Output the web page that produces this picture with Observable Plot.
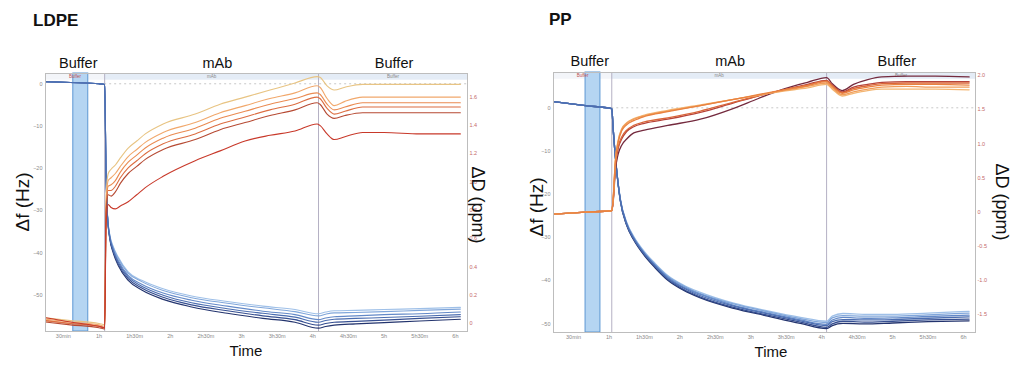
<!DOCTYPE html>
<html>
<head>
<meta charset="utf-8">
<script src="https://cdn.jsdelivr.net/npm/d3@7"></script>
<script src="https://cdn.jsdelivr.net/npm/@observablehq/plot@0.6"></script>
<style>
  html, body { margin: 0; padding: 0; background: #fff; }
  #wrap { position: relative; width: 1024px; height: 373px; overflow: hidden; font-family: "Liberation Sans", Arial, sans-serif; }
  #wrap svg { position: absolute; top: 0; }
  .lbl { position: absolute; white-space: nowrap; color: #111; transform: translate(-50%, -50%); line-height: 1; }
  .title { position: absolute; font-weight: bold; font-size: 17px; color: #111; line-height: 1; }
</style>
</head>
<body>
<div id="wrap"></div>
<script>
// ---------- shared ----------
const xTicks = [0.5, 1, 1.5, 2, 2.5, 3, 3.5, 4, 4.5, 5, 5.5, 6];
const xTickLabels = ["30min", "1h", "1h30m", "2h", "2h30m", "3h", "3h30m", "4h", "4h30m", "5h", "5h30m", "6h"];
const phaseNames = ["Buffer", "mAb", "Buffer"];
const freqColors = ["#9fc0e8", "#80a6da", "#6389c8", "#4b6db0", "#364f91", "#23346e"];
const freqDrawOrder = [0, 5, 1, 4, 2, 3];

// ---------- LDPE ----------
const ldpeFreqTicks = [0, -10, -20, -30, -40, -50];
const ldpeDissTicks = [0, 0.2, 0.4, 0.6, 0.8, 1.0, 1.2, 1.4, 1.6];
const ldpeBand = [0.64, 0.85];
const ldpeSwitch = [1.08, 4.08];
const ldpeLabelT = [0.71, 2.66, 5.14];
const ldpeFreqT = [0.25, 0.6, 1.0, 1.08, 1.1, 1.12, 1.15, 1.2, 1.27, 1.41, 1.6, 1.9, 2.3, 2.8, 3.3, 3.75, 4.08, 4.18, 4.3, 4.6, 5.0, 5.5, 6.07];
const ldpeF3  = [0.5, 0.3, 0.0, -0.2, -22, -31.0, -35.5, -38.5, -41.0, -44.5, -46.5, -48.5, -50.2, -51.5, -52.6, -53.4, -54.4, -54.0, -53.7, -53.6, -53.4, -53.2, -52.9];
const ldpeF5  = [0.5, 0.3, 0.0, -0.2, -22, -31.1, -35.7, -38.7, -41.3, -44.8, -46.8, -48.9, -50.6, -51.9, -53.0, -53.9, -54.9, -54.5, -54.2, -54.1, -53.9, -53.6, -53.3];
const ldpeF7  = [0.5, 0.3, 0.0, -0.2, -22, -31.2, -35.9, -39.1, -41.8, -45.3, -47.4, -49.5, -51.2, -52.6, -53.8, -54.6, -55.8, -55.4, -55.1, -54.9, -54.6, -54.4, -54.0];
const ldpeF9  = [0.5, 0.3, 0.0, -0.2, -22, -31.3, -36.1, -39.4, -42.2, -45.7, -47.9, -50.0, -51.8, -53.2, -54.3, -55.2, -56.4, -56.0, -55.7, -55.5, -55.3, -55.0, -54.6];
const ldpeF11 = [0.5, 0.3, 0.0, -0.2, -22, -31.4, -36.3, -39.7, -42.6, -46.1, -48.3, -50.5, -52.3, -53.7, -54.9, -55.8, -57.1, -56.7, -56.4, -56.2, -55.9, -55.5, -55.1];
const ldpeF13 = [0.5, 0.3, 0.0, -0.2, -22, -31.5, -36.5, -40.0, -43.0, -46.5, -48.8, -51.0, -52.8, -54.3, -55.5, -56.4, -57.8, -57.4, -57.1, -56.8, -56.5, -56.1, -55.7];
const ldpeDissT = [0.25, 0.6, 1.0, 1.08, 1.1, 1.13, 1.17, 1.23, 1.3, 1.41, 1.53, 1.65, 1.9, 2.35, 2.7, 3.05, 3.4, 3.75, 4.06, 4.1, 4.2, 4.3, 4.45, 4.7, 5.0, 5.5, 6.07];
const ldpeD0 = [0.04, 0.02, 0.0, -0.01, 0.90, 1.06, 1.09, 1.12, 1.17, 1.24, 1.29, 1.34, 1.41, 1.48, 1.55, 1.60, 1.65, 1.70, 1.745, 1.74, 1.68, 1.65, 1.67, 1.69, 1.69, 1.69, 1.69];
const ldpeD1 = [0.03, 0.01, -0.01, -0.02, 0.85, 1.01, 1.03, 1.06, 1.11, 1.18, 1.23, 1.28, 1.35, 1.42, 1.49, 1.54, 1.59, 1.63, 1.68, 1.67, 1.59, 1.54, 1.57, 1.60, 1.60, 1.60, 1.60];
const ldpeD2 = [0.02, 0.0, -0.02, -0.03, 0.82, 0.97, 0.98, 1.01, 1.07, 1.14, 1.19, 1.24, 1.31, 1.38, 1.45, 1.50, 1.55, 1.59, 1.63, 1.62, 1.55, 1.51, 1.53, 1.56, 1.56, 1.56, 1.56];
const ldpeD3 = [0.02, 0.0, -0.02, -0.03, 0.80, 0.94, 0.94, 0.97, 1.03, 1.10, 1.15, 1.20, 1.27, 1.34, 1.41, 1.46, 1.51, 1.55, 1.60, 1.59, 1.52, 1.48, 1.50, 1.53, 1.53, 1.53, 1.53];
const ldpeD4 = [0.01, -0.01, -0.03, -0.04, 0.78, 0.91, 0.90, 0.93, 0.99, 1.06, 1.11, 1.16, 1.23, 1.30, 1.37, 1.42, 1.47, 1.51, 1.56, 1.55, 1.48, 1.45, 1.47, 1.49, 1.49, 1.49, 1.49];
const ldpeD5 = [0.04, 0.01, -0.02, -0.03, 0.70, 0.84, 0.82, 0.81, 0.83, 0.86, 0.91, 0.96, 1.04, 1.15, 1.22, 1.29, 1.33, 1.36, 1.41, 1.40, 1.34, 1.30, 1.32, 1.35, 1.35, 1.34, 1.34];
const ldpeDissColors = ["#e8c483", "#f1a86c", "#ea8b52", "#dc6d41", "#b64a33", "#c8392a"];
const ldpeDissOrder = [0, 1, 2, 3, 4, 5];

// ---------- PP ----------
const ppFreqTicks = [0, -10, -20, -30, -40, -50];
const ppDissTicks = [-1.5, -1.0, -0.5, 0, 0.5, 1.0, 1.5, 2.0];
const ppBand = [0.67, 0.88];
const ppSwitch = [1.04, 4.07];
const ppLabelT = [0.73, 2.71, 5.06];
const ppFreqT = [0.22, 0.67, 1.04, 1.06, 1.1, 1.16, 1.25, 1.35, 1.5, 1.65, 1.83, 2.05, 2.29, 2.76, 3.24, 3.7, 4.07, 4.15, 4.3, 4.6, 5.0, 5.5, 6.08];
const ppF3  = [1.45, 0.5, -0.2, -5, -13, -21.0, -26.5, -29.8, -33.3, -36.0, -38.8, -41.0, -42.7, -45.2, -47.0, -48.5, -49.4, -48.2, -47.6, -47.8, -47.8, -47.5, -47.1];
const ppF5  = [1.45, 0.5, -0.2, -5, -13, -21.1, -26.6, -30.0, -33.5, -36.2, -39.0, -41.2, -43.0, -45.4, -47.2, -48.8, -49.7, -48.6, -48.1, -48.2, -48.2, -47.9, -47.5];
const ppF7  = [1.45, 0.5, -0.2, -5, -13, -21.2, -26.8, -30.1, -33.7, -36.4, -39.2, -41.5, -43.2, -45.7, -47.5, -49.1, -50.1, -49.1, -48.5, -48.7, -48.6, -48.3, -48.0];
const ppF9  = [1.45, 0.5, -0.2, -5, -13, -21.3, -26.9, -30.3, -33.8, -36.6, -39.5, -41.7, -43.5, -45.9, -47.7, -49.3, -50.4, -49.5, -49.0, -49.1, -49.0, -48.7, -48.4];
const ppF11 = [1.45, 0.5, -0.2, -5, -13, -21.4, -27.1, -30.4, -34.0, -36.8, -39.7, -42.0, -43.8, -46.2, -48.0, -49.6, -50.8, -50.0, -49.4, -49.6, -49.4, -49.1, -48.9];
const ppF13 = [1.45, 0.5, -0.2, -5, -13, -21.5, -27.2, -30.6, -34.2, -37.0, -39.9, -42.2, -44.0, -46.4, -48.2, -49.9, -51.1, -50.4, -49.9, -50.0, -49.8, -49.5, -49.3];
const ppDissT = [0.22, 0.67, 1.04, 1.06, 1.09, 1.13, 1.18, 1.25, 1.35, 1.5, 1.83, 2.29, 2.76, 3.1, 3.46, 3.8, 4.07, 4.15, 4.29, 4.45, 4.65, 4.85, 5.2, 5.6, 6.08];
const ppD0 = [-0.03, 0.0, 0.02, 0.20, 0.75, 1.05, 1.22, 1.31, 1.37, 1.42, 1.49, 1.57, 1.65, 1.71, 1.77, 1.82, 1.87, 1.80, 1.70, 1.74, 1.78, 1.80, 1.80, 1.80, 1.79];
const ppD1 = [-0.03, 0.0, 0.02, 0.20, 0.74, 1.04, 1.21, 1.30, 1.36, 1.41, 1.48, 1.56, 1.65, 1.71, 1.78, 1.84, 1.89, 1.82, 1.72, 1.76, 1.80, 1.83, 1.84, 1.83, 1.83];
const ppD2 = [-0.03, 0.0, 0.02, 0.20, 0.73, 1.02, 1.19, 1.28, 1.34, 1.40, 1.47, 1.56, 1.65, 1.72, 1.79, 1.85, 1.91, 1.84, 1.74, 1.79, 1.83, 1.86, 1.87, 1.87, 1.86];
const ppD3 = [-0.03, 0.0, 0.02, 0.18, 0.68, 0.95, 1.10, 1.20, 1.27, 1.32, 1.38, 1.48, 1.61, 1.70, 1.79, 1.86, 1.92, 1.85, 1.75, 1.81, 1.85, 1.88, 1.89, 1.89, 1.89];
const ppD4 = [-0.03, 0.0, 0.02, 0.17, 0.66, 0.93, 1.07, 1.18, 1.25, 1.30, 1.36, 1.46, 1.60, 1.70, 1.79, 1.87, 1.93, 1.86, 1.76, 1.83, 1.87, 1.90, 1.91, 1.91, 1.91];
const ppD5 = [-0.03, 0.0, 0.02, 0.15, 0.60, 0.85, 0.98, 1.07, 1.16, 1.20, 1.27, 1.36, 1.52, 1.66, 1.80, 1.90, 1.97, 1.88, 1.78, 1.87, 1.94, 1.98, 1.99, 1.99, 1.98];
const ppDissColors = ["#f3b673", "#f19d58", "#e98240", "#d9663a", "#b6433a", "#742a3e"];
const ppDissOrder = [5, 4, 3, 0, 1, 2];

// ---------- drawing ----------
function panel(o) {
  const [f0, f1] = o.fDomain, [d0, d1] = o.dDomain;
  const toF = d => f0 + (d - d0) * (f1 - f0) / (d1 - d0);
  const toD = f => d0 + (f - f0) * (d1 - d0) / (f1 - f0);
  const end = o.xDomain[1];
  const phases = [
    {a: o.xDomain[0], b: o.switchT[0], name: phaseNames[0]},
    {a: o.switchT[0], b: o.switchT[1], name: phaseNames[1]},
    {a: o.switchT[1], b: end, name: phaseNames[2]}
  ];
  const stripH = (f1 - f0) * o.stripFrac;
  const fmtD = v => { const d = Math.round(toD(v) * 10) / 10; return d === 0 ? "0" : d.toFixed(1); };
  const marks = [
    Plot.rect(phases, {x1: "a", x2: "b", y1: f1, y2: f1 - stripH, fill: (d, i) => i === 0 ? "#f3f5f9" : "#e4ecf6"}),
    Plot.rect([o.band], {x1: d => d[0], x2: d => d[1], fill: "#b5d5f2", stroke: "#5d97d3", strokeWidth: 1}),
    Plot.ruleX(o.switchT, {stroke: "#b4b0c4", strokeWidth: 1}),
    Plot.ruleY([0], {x1: o.switchT[0], x2: end, stroke: "#c8c8c8", strokeDasharray: "2,3"}),
    Plot.text(phases, {x: d => (d.a + d.b) / 2, frameAnchor: "top", dy: 3.5, text: "name", fontSize: 4.5,
      fill: (d, i) => i === 0 ? "#c05050" : "#8a8a8a", lineAnchor: "middle"}),
    Plot.text(phases, {x: (d, i) => o.labelT[i], frameAnchor: "top", dy: o.labelDy, text: "name", fontSize: 14.5,
      fill: "#111", lineAnchor: "bottom", fontFamily: "Liberation Sans"})
  ];
  freqDrawOrder.forEach(i => {
    const vals = o.fSeries[i];
    marks.push(Plot.line(vals.map((v, j) => [o.fT[j], v]), {stroke: freqColors[i], strokeWidth: o.lw, curve: "monotone-x"}));
  });
  o.dOrder.forEach(i => {
    const vals = o.dSeries[i];
    marks.push(Plot.line(vals.map((v, j) => [o.dT[j], toF(v)]), {stroke: o.dColors[i], strokeWidth: o.lw, curve: "monotone-x"}));
  });
  marks.push(
    Plot.axisX(xTicks, {tickSize: 0, tickPadding: 3, fontSize: 5.5, color: "#8a8a8a", label: null,
      tickFormat: d => xTickLabels[xTicks.indexOf(d)]}),
    Plot.axisY(o.fTicks, {anchor: "left", tickSize: 0, tickPadding: 3, fontSize: 5.5, color: "#8a8a8a", label: null}),
    Plot.axisY(o.dTicks.map(toF), {anchor: "right", tickSize: 0, tickPadding: 2, fontSize: 5.5, color: "#c46a6a", label: null, tickFormat: fmtD}),
    Plot.frame({stroke: "#bdbdbd", strokeWidth: 1})
  );
  const svg = Plot.plot({
    width: 512, height: 373,
    marginLeft: o.m[0], marginRight: o.m[1], marginTop: o.m[2], marginBottom: o.m[3],
    x: {domain: o.xDomain},
    y: {domain: o.fDomain},
    style: {fontFamily: "Liberation Sans, Arial, sans-serif", background: "transparent"},
    marks
  });
  svg.style.left = o.left + "px";
  return svg;
}

const wrap = document.getElementById("wrap");
wrap.appendChild(panel({
  left: 0, m: [45, 45, 73, 42],
  xDomain: [0.25, 6.17], fDomain: [-58.6, 2.43], dDomain: [-0.057, 1.767],
  fTicks: ldpeFreqTicks, dTicks: ldpeDissTicks, band: ldpeBand, switchT: ldpeSwitch, labelT: ldpeLabelT, labelDy: -6,
  fT: ldpeFreqT, fSeries: [ldpeF3, ldpeF5, ldpeF7, ldpeF9, ldpeF11, ldpeF13],
  dT: ldpeDissT, dSeries: [ldpeD0, ldpeD1, ldpeD2, ldpeD3, ldpeD4, ldpeD5], dColors: ldpeDissColors, dOrder: ldpeDissOrder,
  stripFrac: 0.026, lw: 1.1
}));
wrap.appendChild(panel({
  left: 512, m: [41, 49, 72, 41],
  xDomain: [0.218, 6.17], fDomain: [-52.0, 8.17], dDomain: [-1.762, 2.044],
  fTicks: ppFreqTicks, dTicks: ppDissTicks, band: ppBand, switchT: ppSwitch, labelT: ppLabelT, labelDy: -7,
  fT: ppFreqT, fSeries: [ppF3, ppF5, ppF7, ppF9, ppF11, ppF13],
  dT: ppDissT, dSeries: [ppD0, ppD1, ppD2, ppD3, ppD4, ppD5], dColors: ppDissColors, dOrder: ppDissOrder,
  stripFrac: 0.026, lw: 1.3
}));

// text labels
const labels = [
  {t: "LDPE", cls: "title", x: 33, y: 12},
  {t: "PP", cls: "title", x: 549, y: 11},
  {t: "Δf (Hz)", cls: "lbl", x: 22, y: 202, rot: -90, size: 19},
  {t: "ΔD (ppm)", cls: "lbl", x: 478, y: 205, rot: 90, size: 18},
  {t: "Time", cls: "lbl", x: 246, y: 350, size: 15},
  {t: "Δf (Hz)", cls: "lbl", x: 536, y: 207, rot: -90, size: 19},
  {t: "ΔD (ppm)", cls: "lbl", x: 1002, y: 202, rot: 90, size: 18},
  {t: "Time", cls: "lbl", x: 771, y: 351, size: 15}
];
labels.forEach(l => {
  const d = document.createElement("div");
  d.className = l.cls;
  d.textContent = l.t;
  d.style.left = l.x + "px";
  d.style.top = l.y + "px";
  if (l.size) d.style.fontSize = l.size + "px";
  if (l.cls === "lbl") d.style.transform = `translate(-50%, -50%)` + (l.rot ? ` rotate(${l.rot}deg)` : "");
  wrap.appendChild(d);
});
</script>
</body>
</html>
